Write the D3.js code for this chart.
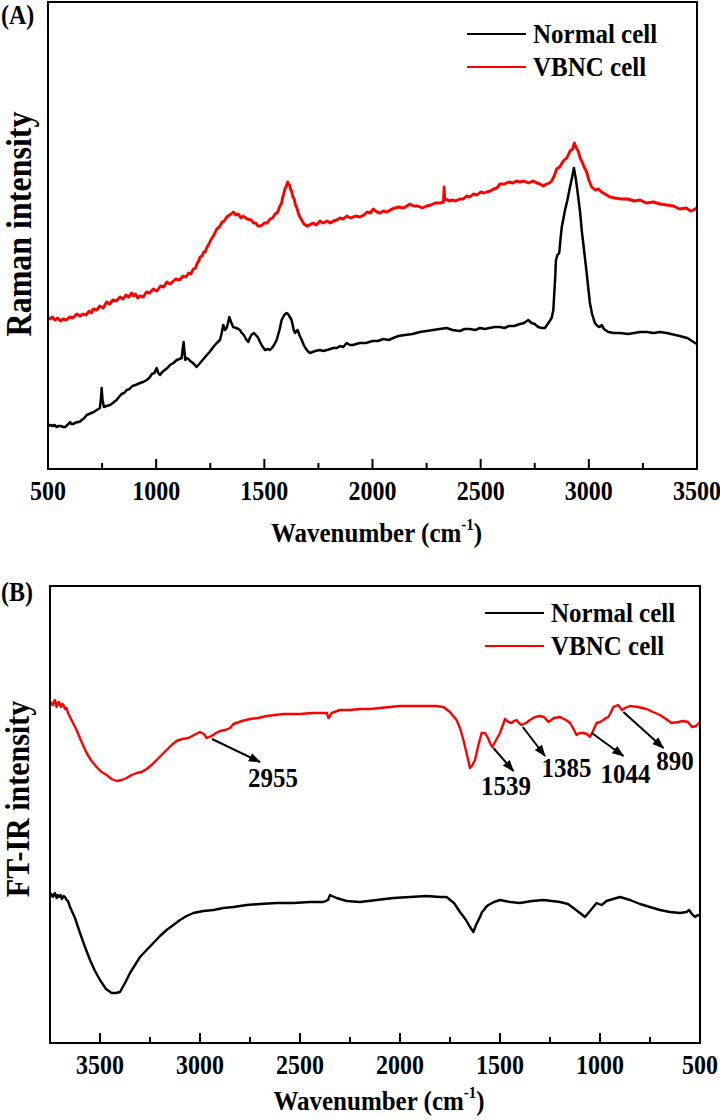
<!DOCTYPE html>
<html>
<head>
<meta charset="utf-8">
<script src="https://cdn.jsdelivr.net/npm/d3@7"></script>
<style>
  body { margin: 0; background: #fff; }
  svg { display: block; font-family: "Liberation Serif", "Times New Roman", serif; font-weight: bold; }
</style>
</head>
<body>
<div id="chart"></div>
<script>
// ---- data (arbitrary intensity units) ----
var seriesNames = ["Normal cell", "VBNC cell"];
var seriesColors = ["#000000", "#ff0000"];

// (A) Raman
var ramanNormalWn = [500,510,520,530,540,550,560,570,579,590,602,608,615,625,635,645,656,668,679,690,700,712,725,733,740,745,748,752,759,770,787,800,817,828,840,852,864,877,890,905,925,940,956,968,980,992,1002,1010,1018,1028,1040,1052,1064,1080,1095,1108,1118,1122,1127,1131,1135,1142,1150,1157,1164,1175,1187,1195,1203,1215,1230,1247,1264,1280,1295,1303,1310,1318,1326,1332,1338,1346,1356,1370,1380,1387,1396,1405,1415,1426,1433,1440,1452,1465,1472,1480,1490,1503,1515,1526,1535,1545,1557,1570,1580,1592,1603,1610,1615,1626,1636,1642,1648,1654,1662,1673,1682,1690,1700,1711,1723,1735,1757,1772,1790,1805,1819,1835,1850,1865,1881,1895,1910,1925,1942,1970,2000,2025,2050,2075,2096,2120,2150,2185,2219,2250,2280,2310,2343,2370,2404,2425,2450,2475,2497,2520,2540,2565,2589,2610,2630,2655,2682,2700,2720,2735,2750,2766,2782,2797,2813,2828,2836,2840,2844,2848,2855,2863,2870,2875,2890,2900,2913,2922,2931,2940,2951,2960,2967,2980,2990,3000,3005,3015,3028,3040,3050,3059,3070,3090,3115,3144,3180,3210,3237,3267,3300,3330,3360,3400,3420,3437,3455,3470,3491,3500];
var ramanNormalI  = [43,44,43,44,42,43,43,42,42,44,47,45,45,46,47,47,49,51,54,55,56,57,59,60,61,71,81,69,62,63,64,66,69,72,75,76,79,80,83,84,86,87,89,91,95,96,101,96,94,97,99,101,104,106,109,110,111,119,127,117,109,111,110,108,107,105,102,104,106,109,113,117,122,126,129,136,144,139,141,146,152,147,142,141,140,139,136,134,130,127,131,134,136,133,131,127,123,119,120,119,121,124,129,139,149,154,156,155,153,149,139,136,138,139,134,129,124,121,118,116,117,118,119,118,119,120,121,121,123,122,126,124,124,125,126,126,128,128,130,129,131,133,134,135,137,138,139,140,141,139,138,140,140,139,141,140,141,142,142,141,143,143,145,146,149,146,145,142,141,141,146,151,159,175,189,209,214,216,232,242,259,268,282,291,301,290,272,256,239,215,196,176,166,155,146,143,142,144,140,137,136,136,135,136,137,137,136,137,136,134,133,132,131,129,126,125];

var ramanVbncWn = [500,510,520,532,545,558,571,585,600,615,633,648,663,676,690,700,709,725,740,755,771,785,800,815,833,847,860,873,887,896,905,915,925,940,955,970,987,1003,1020,1035,1049,1065,1090,1108,1125,1138,1150,1160,1172,1182,1190,1197,1203,1212,1220,1227,1233,1244,1255,1267,1280,1292,1305,1315,1326,1340,1357,1368,1380,1392,1403,1420,1440,1450,1460,1470,1480,1490,1500,1513,1526,1538,1550,1562,1572,1580,1585,1590,1595,1602,1608,1613,1617,1622,1626,1632,1638,1644,1649,1660,1670,1683,1696,1710,1725,1740,1757,1772,1790,1805,1819,1835,1850,1865,1881,1900,1920,1942,1960,1975,1990,2004,2020,2035,2050,2066,2090,2120,2145,2173,2190,2210,2230,2250,2270,2290,2312,2328,2331,2334,2340,2355,2370,2385,2404,2420,2435,2450,2466,2483,2500,2515,2528,2545,2560,2575,2589,2610,2630,2648,2666,2682,2700,2720,2743,2760,2774,2790,2805,2818,2828,2840,2851,2865,2882,2898,2913,2925,2933,2942,2951,2960,2967,2978,2990,3000,3013,3030,3045,3059,3075,3098,3120,3150,3180,3210,3237,3265,3298,3330,3360,3391,3420,3450,3470,3483,3500];
var ramanVbncI  = [152,150,152,149,151,148,150,149,152,151,155,153,155,154,158,156,160,159,163,161,167,165,169,168,172,170,174,172,176,173,175,171,173,172,177,176,180,178,183,182,187,185,190,189,193,192,196,195,200,201,206,208,212,213,217,217,221,225,230,234,240,242,247,248,252,254,257,254,255,251,253,250,249,246,246,243,243,244,246,246,250,251,255,257,263,266,272,275,280,283,287,284,284,279,278,272,270,264,262,254,250,245,243,244,246,244,248,246,248,246,248,249,251,250,253,251,253,252,254,257,256,260,257,256,258,257,260,262,261,265,263,263,261,263,264,266,266,267,282,269,270,268,269,268,270,270,273,272,275,274,277,276,277,278,280,281,285,285,287,286,288,287,288,286,288,286,285,283,285,286,288,293,300,302,308,311,318,320,326,321,318,311,308,302,297,289,282,279,280,277,275,272,271,270,270,268,269,266,267,265,264,263,260,261,258,259,261];

// (B) FT-IR
var irNormalWn = [3747,3740,3735,3730,3725,3717,3711,3705,3697,3690,3682,3675,3667,3660,3650,3625,3600,3575,3550,3525,3500,3470,3442,3420,3400,3375,3350,3325,3300,3267,3233,3200,3167,3133,3100,3067,3033,2983,2933,2883,2833,2767,2700,2617,2533,2450,2383,2360,2350,2340,2317,2267,2200,2117,2033,1950,1867,1800,1767,1730,1700,1670,1650,1633,1620,1600,1590,1580,1570,1558,1530,1500,1450,1400,1340,1283,1240,1200,1160,1133,1100,1075,1050,1017,1005,992,967,935,900,850,800,750,700,650,600,567,555,540,525,510,500];
var irNormalI  = [150,147,146,149,150,145,148,146,148,144,147,146,143,142,136,125,110,96,83,72,63,54,50,50,51,60,70,78,86,93,100,107,113,118,123,127,130,132,133,135,136,138,139,140,140,141,141,143,148,147,145,142,141,143,145,146,147,146,146,140,131,123,116,111,118,126,131,133,136,138,141,143,141,140,142,143,142,141,139,135,130,126,132,140,139,138,142,144,146,143,139,136,133,131,130,131,133,129,126,128,127];

var irVbncWn = [3747,3741,3735,3730,3725,3717,3711,3705,3700,3695,3689,3683,3675,3667,3660,3650,3635,3617,3592,3567,3542,3517,3492,3467,3442,3417,3392,3367,3342,3317,3292,3267,3242,3217,3192,3167,3142,3117,3088,3058,3030,3000,2980,2967,2955,2942,2920,2900,2875,2850,2833,2790,2750,2710,2667,2625,2583,2540,2500,2440,2383,2365,2358,2350,2342,2300,2250,2200,2150,2100,2050,2000,1933,1867,1820,1783,1750,1717,1700,1683,1665,1650,1638,1625,1608,1592,1575,1560,1550,1539,1525,1500,1475,1458,1442,1430,1417,1405,1392,1370,1350,1325,1300,1280,1258,1230,1200,1170,1150,1135,1117,1100,1083,1065,1050,1035,1017,1000,983,970,958,945,933,910,890,875,850,810,767,735,700,670,642,610,583,560,540,520,500];
var irVbncI  = [341,339,338,342,343,336,340,341,338,336,339,338,334,335,330,326,320,313,301,290,282,276,271,268,264,262,263,265,268,270,271,274,278,283,288,293,298,302,304,305,308,311,309,305,306,307,310,312,313,315,319,322,324,325,327,328,329,329,329,330,330,330,325,327,330,333,333,334,334,335,336,337,337,337,337,336,331,323,315,303,288,275,278,283,298,310,310,305,300,296,301,310,324,321,320,322,323,320,318,320,323,326,327,326,321,325,326,323,320,315,308,310,310,309,306,312,320,321,323,325,326,331,336,338,333,335,337,336,334,331,328,324,320,321,322,321,316,317,321];

// peak labels in (B): arrow tail / head and label anchor, in wavenumber / intensity units
var irPeakLabels = ["2955", "1539", "1385", "1044", "890"];
var irArrowFromWn = [2940, 1533, 1386, 1041, 883];
var irArrowFromI  = [304, 295, 316, 310, 331];
var irArrowToWn   = [2700, 1433, 1275, 883, 683];
var irArrowToI    = [281, 272, 287, 287, 295];
var irLabelWn     = [2635, 1470, 1167, 872, 625];
var irLabelI      = [256, 248, 266, 260, 273];

var ramanTicks = d3.range(500, 3501, 250);
var irTicks = d3.range(500, 3751, 250);

// ---- drawing ----
var width = 720, height = 1120;
var textStretch = 1.1;   // the figure's lettering is a little taller than the font
var svg = d3.select("#chart").append("svg")
  .attr("width", width).attr("height", height);

svg.append("defs").append("marker")
  .attr("id", "arrow")
  .attr("viewBox", "0 -5 12 10")
  .attr("refX", 11).attr("refY", 0)
  .attr("markerWidth", 12).attr("markerHeight", 10)
  .attr("markerUnits", "userSpaceOnUse")
  .attr("orient", "auto")
  .append("path")
  .attr("fill", "#000")
  .attr("d", "M0,-4.5L12,0L0,4.5Z");

function zip(wn, vals) {
  return wn.map(function(w, i) { return {wn: w, v: vals[i]}; });
}

function label(g, x, y, size, rot) {
  return g.append("text")
    .attr("transform", "translate(" + x + "," + y + ")" + (rot ? " rotate(" + rot + ")" : "") + " scale(1," + textStretch + ")")
    .attr("font-size", size);
}

function drawPanel(cfg) {
  var x = d3.scaleLinear().domain(cfg.xDomain).range([cfg.left, cfg.right]);
  var y = d3.scaleLinear().domain(cfg.yDomain).range([cfg.bottom, cfg.top]);
  var g = svg.append("g");

  var line = d3.line().x(function(d) { return x(d.wn); }).y(function(d) { return y(d.v); });

  cfg.series.forEach(function(s, i) {
    g.append("path")
      .datum(s)
      .attr("fill", "none")
      .attr("stroke", seriesColors[i])
      .attr("stroke-width", cfg.lineWidths[i])
      .attr("stroke-linejoin", "round")
      .attr("d", line);
  });

  // frame
  g.append("rect")
    .attr("x", cfg.left).attr("y", cfg.top)
    .attr("width", cfg.right - cfg.left).attr("height", cfg.bottom - cfg.top)
    .attr("fill", "none").attr("stroke", "#000").attr("stroke-width", 2);

  // inward ticks, major every 500
  g.selectAll("line.tick").data(cfg.ticks).join("line")
    .attr("x1", function(d) { return x(d); }).attr("x2", function(d) { return x(d); })
    .attr("y1", cfg.bottom)
    .attr("y2", function(d) { return cfg.bottom - (d % 500 == 0 ? 10 : 6); })
    .attr("stroke", "#000").attr("stroke-width", 2);

  cfg.ticks.filter(function(d) { return d % 500 == 0; }).forEach(function(d) {
    label(g, x(d), cfg.bottom + 31, 24).attr("text-anchor", "middle").text(d);
  });

  var t = label(g, (cfg.left + cfg.right) / 2 + 4, cfg.bottom + cfg.xTitleGap, 25).attr("text-anchor", "middle");
  t.append("tspan").text("Wavenumber (cm");
  t.append("tspan").attr("font-size", 15).attr("dy", -11).text("-1");
  t.append("tspan").attr("dy", 11).text(")");

  label(g, cfg.yTitleX, cfg.yTitleY, cfg.yTitleSize, -90)
    .attr("text-anchor", "middle")
    .text(cfg.yTitle);

  label(g, 1, cfg.tagY, 24).text(cfg.tag);

  // legend
  seriesNames.forEach(function(name, i) {
    var ly = cfg.legendY + i * 33;
    g.append("line")
      .attr("x1", cfg.legendX).attr("x2", cfg.legendX + 59)
      .attr("y1", ly).attr("y2", ly)
      .attr("stroke", seriesColors[i]).attr("stroke-width", 2);
    label(g, cfg.legendX + 66, ly + 9, 25).text(name);
  });

  return {x: x, y: y, g: g};
}

drawPanel({
  left: 48, right: 697, top: 2, bottom: 469,
  xDomain: [500, 3500], yDomain: [0, 467],
  ticks: ramanTicks,
  series: [zip(ramanNormalWn, ramanNormalI), zip(ramanVbncWn, ramanVbncI)],
  lineWidths: [2.5, 2.9],
  yTitle: "Raman intensity", yTitleX: 31, yTitleY: 224, yTitleSize: 32,
  tag: "(A)", tagY: 24, xTitleGap: 73,
  legendX: 467, legendY: 34
});

var pB = drawPanel({
  left: 50, right: 700, top: 586, bottom: 1043,
  xDomain: [3750, 500], yDomain: [0, 457],
  ticks: irTicks,
  series: [zip(irNormalWn, irNormalI), zip(irVbncWn, irVbncI)],
  lineWidths: [2.4, 2.4],
  yTitle: "FT-IR intensity", yTitleX: 29, yTitleY: 799, yTitleSize: 30,
  tag: "(B)", tagY: 601, xTitleGap: 67,
  legendX: 485, legendY: 613
});

irPeakLabels.forEach(function(lab, i) {
  pB.g.append("line")
    .attr("x1", pB.x(irArrowFromWn[i])).attr("y1", pB.y(irArrowFromI[i]))
    .attr("x2", pB.x(irArrowToWn[i])).attr("y2", pB.y(irArrowToI[i]))
    .attr("stroke", "#000").attr("stroke-width", 2)
    .attr("marker-end", "url(#arrow)");
  label(pB.g, pB.x(irLabelWn[i]), pB.y(irLabelI[i]), 25)
    .attr("text-anchor", "middle")
    .text(lab);
});
</script>
</body>
</html>
